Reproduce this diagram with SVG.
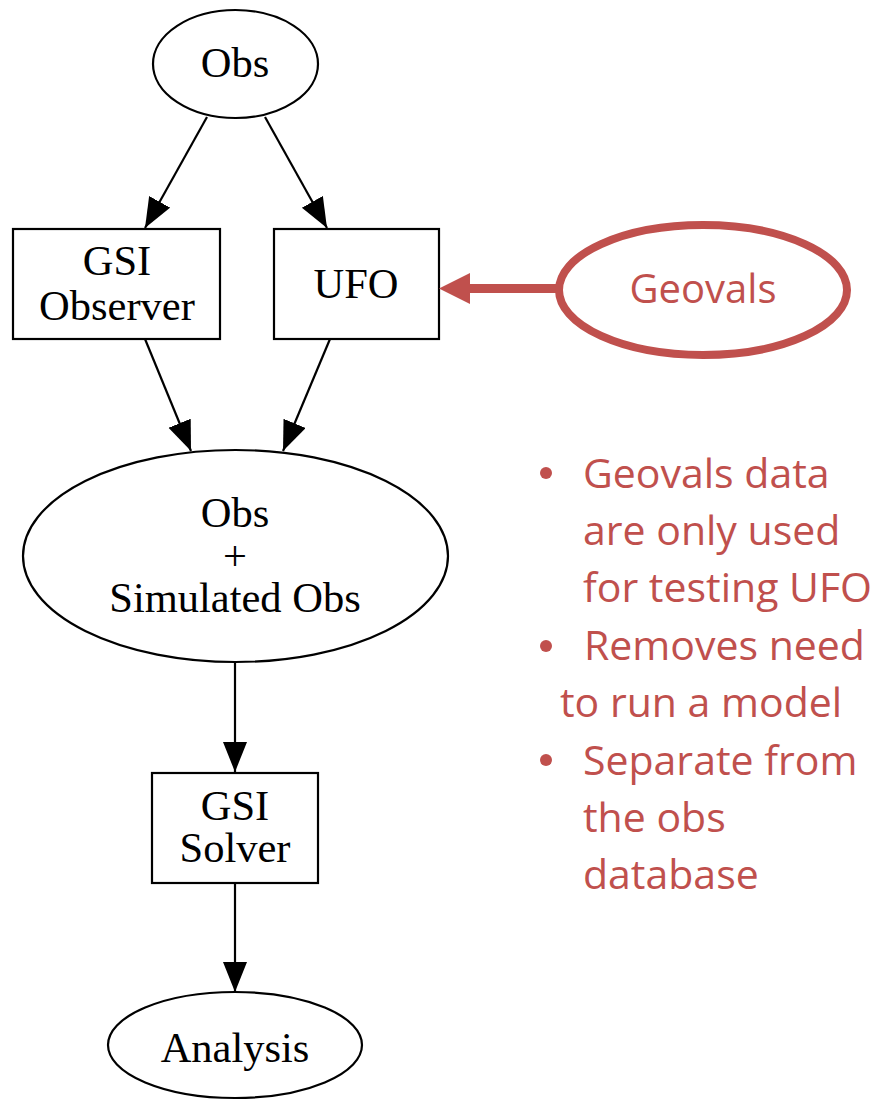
<svg xmlns="http://www.w3.org/2000/svg" width="877" height="1100" viewBox="0 0 877 1100">
  <defs>
    <!-- filled triangular arrowhead used by the flow edges -->
    <marker id="arrow" markerUnits="userSpaceOnUse" markerWidth="32" markerHeight="26" refX="30" refY="12" orient="auto">
      <path d="M0,0 L30,12 L0,24 Z" fill="#000"/>
    </marker>
  </defs>
  <style>
    .shape { fill: #fff; stroke: #000; stroke-width: 2.2; }
    .lbl { font-family: "Liberation Serif", "Times New Roman", serif; font-size: 42.5px; fill: #000; text-anchor: middle; }
    .edge { stroke: #000; stroke-width: 2.2; fill: none; marker-end: url(#arrow); }
    .red { fill: #c0504d; }
    .note { font-family: "Open Sans", "Noto Sans", sans-serif; font-size: 41px; fill: #c0504d; }
  </style>

  <rect width="877" height="1100" fill="#fff"/>

  <!-- flow edges -->
  <g id="edges">
    <path class="edge" d="M207,117 L145,228"/>
    <path class="edge" d="M265,117 L327,228"/>
    <path class="edge" d="M145,339 L191,451"/>
    <path class="edge" d="M330,339 L283,451"/>
    <path class="edge" d="M235,662 L235,772"/>
    <path class="edge" d="M235,883 L235,992"/>
  </g>

  <g id="obs">
    <ellipse class="shape" cx="235.5" cy="64" rx="82.5" ry="54"/>
    <text class="lbl" x="235" y="77">Obs</text>
  </g>

  <g id="gsi-observer">
    <rect class="shape" x="13" y="229" width="207" height="110"/>
    <text class="lbl" x="117" y="275">GSI</text>
    <text class="lbl" x="117" y="320">Observer</text>
  </g>

  <g id="ufo">
    <rect class="shape" x="274" y="229" width="165" height="110"/>
    <text class="lbl" x="356" y="298">UFO</text>
  </g>

  <g id="obs-simulated">
    <ellipse class="shape" cx="235.5" cy="556" rx="212.5" ry="106"/>
    <text class="lbl" x="235" y="527">Obs</text>
    <text class="lbl" x="235" y="570">+</text>
    <text class="lbl" x="235" y="612">Simulated Obs</text>
  </g>

  <g id="gsi-solver">
    <rect class="shape" x="152" y="773" width="166" height="110"/>
    <text class="lbl" x="235" y="820">GSI</text>
    <text class="lbl" x="235" y="862">Solver</text>
  </g>

  <g id="analysis">
    <ellipse class="shape" cx="235" cy="1045" rx="127" ry="53"/>
    <text class="lbl" x="235" y="1062">Analysis</text>
  </g>

  <!-- Geovals feeding the UFO -->
  <g id="geovals-link">
    <rect class="red" x="466" y="284" width="93" height="9"/>
    <path class="red" d="M439,288.5 L470,273 L470,304 Z"/>
  </g>

  <g id="geovals">
    <ellipse cx="703" cy="290" rx="144" ry="65" fill="#fff" stroke="#c0504d" stroke-width="8"/>
    <text x="703" y="303" text-anchor="middle" font-family="Open Sans, Noto Sans, sans-serif" font-size="40" fill="#c0504d">Geovals</text>
  </g>

  <!-- notes -->
  <g id="notes">
    <circle class="red" cx="546" cy="473" r="6"/>
    <circle class="red" cx="546" cy="646" r="6"/>
    <circle class="red" cx="546" cy="760" r="6"/>
    <text class="note" x="583" y="488">Geovals data</text>
    <text class="note" x="583" y="545">are only used</text>
    <text class="note" x="583" y="602">for testing UFO</text>
    <text class="note" x="584" y="660">Removes need</text>
    <text class="note" x="560" y="717">to run a model</text>
    <text class="note" x="583" y="775">Separate from</text>
    <text class="note" x="583" y="832">the obs</text>
    <text class="note" x="583" y="889">database</text>
  </g>
</svg>
